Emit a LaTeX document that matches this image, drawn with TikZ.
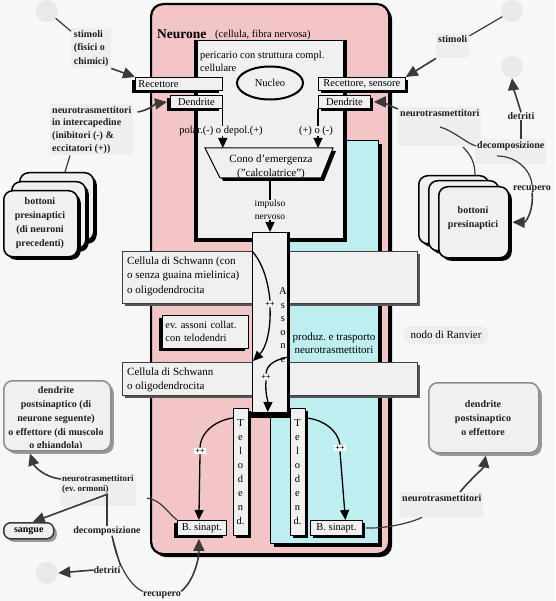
\documentclass[tikz,border=0pt]{standalone}
\usepackage{fontspec}
\setmainfont{Liberation Serif}
\usetikzlibrary{arrows.meta,shapes.geometric,shadows,calc}
\frenchspacing
\definecolor{bgc}{HTML}{F7F7F7}
\definecolor{pinkc}{HTML}{F2C5C6}
\definecolor{cyanc}{HTML}{BEEEEF}
\definecolor{boxg}{HTML}{F0F0F0}
\definecolor{lblbg}{HTML}{EEEEEE}
\definecolor{arrc}{HTML}{3A3A3A}
\definecolor{circc}{HTML}{E9E9E9}
\definecolor{schsh}{HTML}{555555}
\definecolor{dpborder}{HTML}{8C8C8C}
\tikzset{
  rshad/.style={general shadow={fill=black, shadow xshift=3pt, shadow yshift=-3pt}},
  lshad/.style={general shadow={fill=black, shadow xshift=-3pt, shadow yshift=-3pt}},
  gshad/.style={general shadow={fill=schsh, shadow xshift=3pt, shadow yshift=-3pt}},
  lgshad/.style={general shadow={fill=black!40, shadow xshift=3pt, shadow yshift=-3pt}},
  txt/.style={font=\fontsize{10.5}{13}\selectfont, inner sep=0pt},
  wbox/.style={draw=black, line width=0.8pt, fill=boxg, inner sep=0pt, anchor=north west, font=\fontsize{10.5}{13}\selectfont},
  schbox/.style={draw=black!75, line width=0.6pt, fill=boxg, inner sep=0pt, anchor=north west, gshad},
  stackbox/.style={draw=black, line width=1.5pt, fill=boxg, rounded corners=9pt, minimum width=70pt, minimum height=68pt, anchor=north west, inner sep=0pt, rshad},
  dpbox/.style={draw=dpborder, line width=1.5pt, fill=boxg, rounded corners=9pt, anchor=north west, inner sep=0pt, lgshad},
  lbl/.style={font=\bfseries\fontsize{10}{12.7}\selectfont, fill=lblbg, inner sep=2pt, align=left, text=black!88},
  blbl/.style={font=\bfseries\fontsize{10}{14}\selectfont, inner sep=0pt, align=center, text=black!88},
  faint/.style={circle, fill=circc, minimum size=22pt, inner sep=0pt},
  blk/.style={draw=black, line width=1.3pt, -{Triangle[width=9pt,length=10pt]}},
  blkline/.style={draw=black, line width=1.3pt},
  garr/.style={draw=arrc, line width=1.6pt, -{Triangle[width=11pt,length=12pt]}},
  gline/.style={draw=arrc, line width=1.2pt},
  pp/.style={font=\bfseries\fontsize{8}{9}\selectfont, fill=white, inner sep=1pt},
  letters/.style={font=\fontsize{10.5}{13.6}\selectfont, align=center, inner sep=0pt},
}
\begin{document}
\begin{tikzpicture}[x=1pt,y=-1pt]
\useasboundingbox (0,0) rectangle (555,601);
\fill[bgc] (0,0) rectangle (555,601);
% faint circles
\node[faint] (c1) at (47,11) {};
\node[faint] (c2) at (512,11) {};
\node[faint] (c3) at (512,67) {};
\node[faint] (c4) at (47,573) {};
% neuron body
\node[draw=black, line width=2.2pt, fill=pinkc, rounded corners=12pt, minimum width=238pt, minimum height=550pt, anchor=north west, inner sep=0pt, rshad] (neuron) at (150,3) {};
\node[draw=black, line width=1.2pt, fill=cyanc, minimum width=108pt, minimum height=403pt, anchor=north west, inner sep=0pt, rshad] (cyan) at (270,140) {};
\node[font=\bfseries\fontsize{13.5}{15}\selectfont, anchor=west, inner sep=0pt] (neurone) at (157,34) {Neurone};
\node[txt, anchor=west] (neursub) at (215,35) {(cellula, fibra nervosa)};
% pericario
\node[fill=black, minimum width=153pt, minimum height=202pt, anchor=north west, inner sep=0pt] (pershad) at (194,40) {};
\node[draw=black, line width=0.8pt, fill=boxg, minimum width=146pt, minimum height=198pt, anchor=north west, inner sep=0pt] (peri) at (197,40) {};
\node[txt, anchor=north west, align=left] (peritxt) at (200,51) {pericario con struttura compl.\\cellulare};
\node[ellipse, draw=black, line width=2pt, fill=boxg, minimum width=66pt, minimum height=33pt, txt] (nucleo) at (270,83) {Nucleo};
% cono
\coordinate (cTL) at (205,148); \coordinate (cTR) at (333,148);
\coordinate (cBR) at (321,178); \coordinate (cBL) at (220,178);
\coordinate (cB) at (270,178);
\fill[black] ($(cTL)+(3,3)$) -- ($(cTR)+(3,3)$) -- ($(cBR)+(3,3)$) -- ($(cBL)+(3,3)$) -- cycle;
\draw[fill=boxg, line width=1pt] (cTL) -- (cTR) -- (cBR) -- (cBL) -- cycle;
\node[txt, align=center, font=\fontsize{11}{13.5}\selectfont] (cono) at (271,167) {Cono d'emergenza\\("calcolatrice")};
% Schwann cells
\node[schbox, minimum width=295pt, minimum height=52pt] (sch1) at (122,251) {};
\node[txt, anchor=west, align=left, font=\fontsize{11}{14.5}\selectfont] (sch1t) at (127,276) {Cellula di Schwann (con\\o senza guaina mielinica)\\o oligodendrocita};
\node[schbox, minimum width=295pt, minimum height=33pt] (sch2) at (122,362) {};
\node[txt, anchor=west, align=left, font=\fontsize{11}{14}\selectfont] (sch2t) at (127,380) {Cellula di Schwann\\o oligodendrocita};
% axon
\node[draw=black, line width=1pt, fill=boxg, minimum width=35pt, minimum height=181pt, anchor=north west, inner sep=0pt, general shadow={fill=black, shadow xshift=2.5pt, shadow yshift=0pt}] (axon) at (252,232) {};
\node[letters] (assone) at (283,325) {A\\s\\s\\o\\n\\e};
% terminal
\node[fill=black, minimum width=75pt, minimum height=6pt, anchor=north west, inner sep=0pt] (termbar) at (233,412) {};
\node[wbox, rshad, minimum width=15pt, minimum height=127pt] (tel1) at (233,408) {};
\node[letters, font=\fontsize{10.5}{13.9}\selectfont] (tel1t) at (240.5,472) {T\\e\\l\\o\\d\\e\\n\\d.};
\node[wbox, rshad, minimum width=15pt, minimum height=127pt] (tel2) at (290,408) {};
\node[letters, font=\fontsize{10.5}{13.9}\selectfont] (tel2t) at (297.5,472) {T\\e\\l\\o\\d\\e\\n\\d.};
% receptors and dendrites
\node[wbox, lshad, minimum width=87pt, minimum height=13pt, text width=81pt, inner xsep=3pt, align=left] (rec1) at (135,77) {Recettore};
\node[wbox, lshad, minimum width=52pt, minimum height=13pt] (dend1) at (170,95) {Dendrite};
\node[wbox, rshad, minimum width=87pt, minimum height=13pt] (rec2) at (318,77) {Recettore, sensore};
\node[wbox, rshad, minimum width=52pt, minimum height=13pt] (dend2) at (318,95) {Dendrite};
% collaterals etc.
\node[wbox, lshad, minimum width=86pt, minimum height=33pt, text width=80pt, inner xsep=3pt, align=left] (evac) at (162,315) {ev. assoni collat.\\con telodendri};
\node[txt, align=center, font=\fontsize{11}{13}\selectfont] (produz) at (334,343) {produz. e trasporto\\neurotrasmettitori};
\node[txt, fill=lblbg, rounded corners=8pt, inner xsep=7pt, inner ysep=5pt, font=\fontsize{11}{13}\selectfont] (ranv) at (446,335) {nodo di Ranvier};
\node[wbox, lshad, minimum width=49pt, minimum height=15pt] (bs1) at (177,520) {B. sinapt.};
\node[wbox, rshad, minimum width=52pt, minimum height=15pt] (bs2) at (310,520) {B. sinapt.};
% inner arrows
\node[txt] (pol1) at (221,131) {polar.(-) o depol.(+)};
\node[txt] (pol2) at (316,131) {(+) o (-)};
\draw[blkline] (dend1.south east) -- (dend1.south east |- pol1.north);
\draw[blk] (dend1.south east |- pol1.south) -- (dend1.south east |- cTL);
\draw[blkline] (dend2.south west) -- (dend2.south west |- pol2.north);
\draw[blk] (dend2.south west |- pol2.south) -- (dend2.south west |- cTL);
\node[txt, align=center, font=\fontsize{9.5}{13}\selectfont] (imp) at (270,210) {impulso\\nervoso};
\draw[blkline] (cB) -- (imp.north);
\draw[blk] (imp.south) -- (axon.north);
\node[pp, fill=boxg] (pp1) at (270,304) {++};
\coordinate (colltip) at (253,361);
\draw[blkline] (axon.north west |- sch1.north) .. controls (262,262) and (268,280) .. (pp1.north);
\draw[blk] (pp1.south) .. controls (271,330) and (266,348) .. (colltip);
\node[pp, fill=boxg] (pp2) at (266,377) {++};
\draw[blkline] ($(axon.north east)+(0,125)$) .. controls (280,359) and (267,362) .. (pp2.north);
\draw[blk] (pp2.south) .. controls (265,395) and (268,400) .. ($(termbar.north)+(-3,0)$);
\node[pp] (pp3) at (200,451) {++};
\draw[blkline] ($(tel1.north west)+(0,10)$) .. controls (218,420) and (201,430) .. (pp3.north);
\draw[blk] (pp3.south) -- ($(bs1.north)+(-3,0)$);
\node[pp] (pp4) at (340,448) {++};
\draw[blkline] ($(tel2.north east)+(0,10)$) .. controls (322,419) and (338,430) .. (pp4.north);
\draw[blk] (pp4.south) -- ($(bs2.north)+(9,0)$);
% ---------- outside, top left
\node[lbl, anchor=north west, minimum width=40pt, minimum height=38pt, font=\bfseries\fontsize{10}{13.5}\selectfont] (st1) at (71,28) {stimoli\\(fisici o\\chimici)};
\draw[gline] (c1) -- (st1);
\draw[garr] (st1.south east) -- (rec1.north west);
\node[lbl, anchor=north west] (nt1) at (50,104) {neurotrasmettitori\\in intercapedine\\(inibitori (-) \&\\eccitatori (+))};
\draw[garr] ($(nt1.north east)+(4,8)$) .. controls +(12,-2) and +(-12,2) .. ($(dend1.west)+(-3,0)$);
\node[stackbox, minimum width=74pt] (bot1c) at (19,172) {};
\node[stackbox, minimum width=74pt, minimum height=67pt] (bot1b) at (11,181) {};
\node[stackbox, minimum width=74pt, minimum height=66pt] (bot1a) at (3,190) {};
\node[blbl] (bot1t) at (40,223) {bottoni\\presinaptici\\(di neuroni\\precedenti)};
\draw[gline] ($(nt1.south west)+(20,0)$) -- ($(bot1c.north west)+(46,0)$);
% ---------- outside, top right
\node[lbl, anchor=north west, text depth=14pt] (st2) at (436,33) {stimoli};
\draw[gline] (c2) -- (st2);
\draw[garr] (st2.south west) -- (rec2.north east);
\node[lbl, anchor=north west, text depth=28pt] (nt2) at (398,107) {neurotrasmettitori};
\draw[garr] ($(nt2.north west)+(0,2)$) .. controls +(-10,-4) and +(8,0) .. ($(dend2.east)+(3,0)$);
\node[lbl, anchor=north west, text depth=14pt] (dc2) at (475,139) {decomposizione};
\node[blbl] (det2) at (521,116) {detriti};
\node[blbl] (rc2) at (532,189) {recupero};
\node[stackbox] (bot2c) at (418,175) {};
\node[stackbox, minimum height=70pt] (bot2b) at (428,180) {};
\node[stackbox, minimum height=71pt] (bot2a) at (438,186) {};
\node[blbl] (bot2t) at (473,218) {bottoni\\presinaptici};
\draw[gline] ($(nt2.north west)+(42,20)$) .. controls +(14,4) and +(-10,-3) .. ($(dc2.north west)+(1,7)$);
\draw[gline] ($(dc2.north west)+(-12,8)$) .. controls +(8,8) and +(0,-12) .. ($(bot2c.north west)+(57,0)$);
\draw[gline] (det2.south) -- (det2.south |- dc2.north);
\draw[garr] (det2.north) .. controls +(-3,-10) and +(1,8) .. (c3.south);
\draw[gline] ($(dc2.north west)+(22,17)$) .. controls +(22,0) and +(0,-12) .. (rc2.north);
\draw[garr] (rc2.south) .. controls +(2,16) and +(14,0) .. ($(bot2a.east)+(3,0)$);
% ---------- outside, bottom left
\node[dpbox, minimum width=107pt, minimum height=70pt] (dp1) at (3,380) {};
\begin{scope}
\clip (5,382) rectangle (108,447);
\node[blbl, font=\bfseries\fontsize{10}{13.75}\selectfont] (dp1t) at (56,419) {dendrite\\postsinaptico (di\\neurone seguente)\\o effettore (di muscolo\\o ghiandola)};
\end{scope}
\node[lbl, anchor=north west, font=\bfseries\fontsize{9}{10.5}\selectfont, text depth=12pt] (nt3) at (60,473) {neurotrasmettitori\\(ev. ormoni)};
\node[draw=arrc, line width=1.5pt, fill=boxg, rounded corners=7pt, minimum width=50pt, minimum height=16pt, anchor=north west, inner sep=0pt, font=\bfseries\fontsize{10}{12}\selectfont, lgshad] (sang) at (3,522) {sangue};
\node[blbl] (dc1) at (107,531) {decomposizione};
\node[blbl] (det1) at (107,570) {detriti};
\node[blbl] (rc1) at (162,595) {recupero};
\draw[garr] ($(nt3.north west)+(1,6)$) .. controls +(-18,-2) and +(4,12) .. ($(dp1.south west)+(27,2)$);
\draw[garr] ($(nt3.north west)+(48,21)$) -- ($(sang.north)+(4,0)$);
\draw[gline] ($(nt3.north west)+(47,22)$) -- (dc1.north);
\draw[gline] ($(dc1.south)+(5,0)$) -- (det1.north east);
\draw[gline] ($(dc1.south)+(5,0)$) .. controls +(4,25) and +(-14,-6) .. (rc1.north west);
\draw[garr] (det1.west) -- (c4.east);
\draw[garr] (rc1.north east) .. controls +(12,-10) and +(0,22) .. ($(bs1.south)+(-3,3)$);
\draw[gline] (bs1.north west) .. controls +(-10,-8) and +(14,2) .. ($(nt3.north west)+(87,25)$);
% ---------- outside, bottom right
\node[dpbox, minimum width=110pt, minimum height=70pt] (dp2) at (428,382) {};
\node[blbl] (dp2t) at (483,418) {dendrite\\postsinaptico\\o effettore};
\node[lbl, anchor=north west, text depth=14pt] (nt4) at (400,492) {neurotrasmettitori};
\draw[gline] ($(bs2.east)+(3,0)$) .. controls +(18,1) and +(-12,6) .. ($(nt4.south west)+(22,0)$);
\draw[garr] ($(nt4.north west)+(60,0)$) .. controls +(8,-10) and +(-2,12) .. ($(dp2.south)+(2,2)$);
\end{tikzpicture}
\end{document}
